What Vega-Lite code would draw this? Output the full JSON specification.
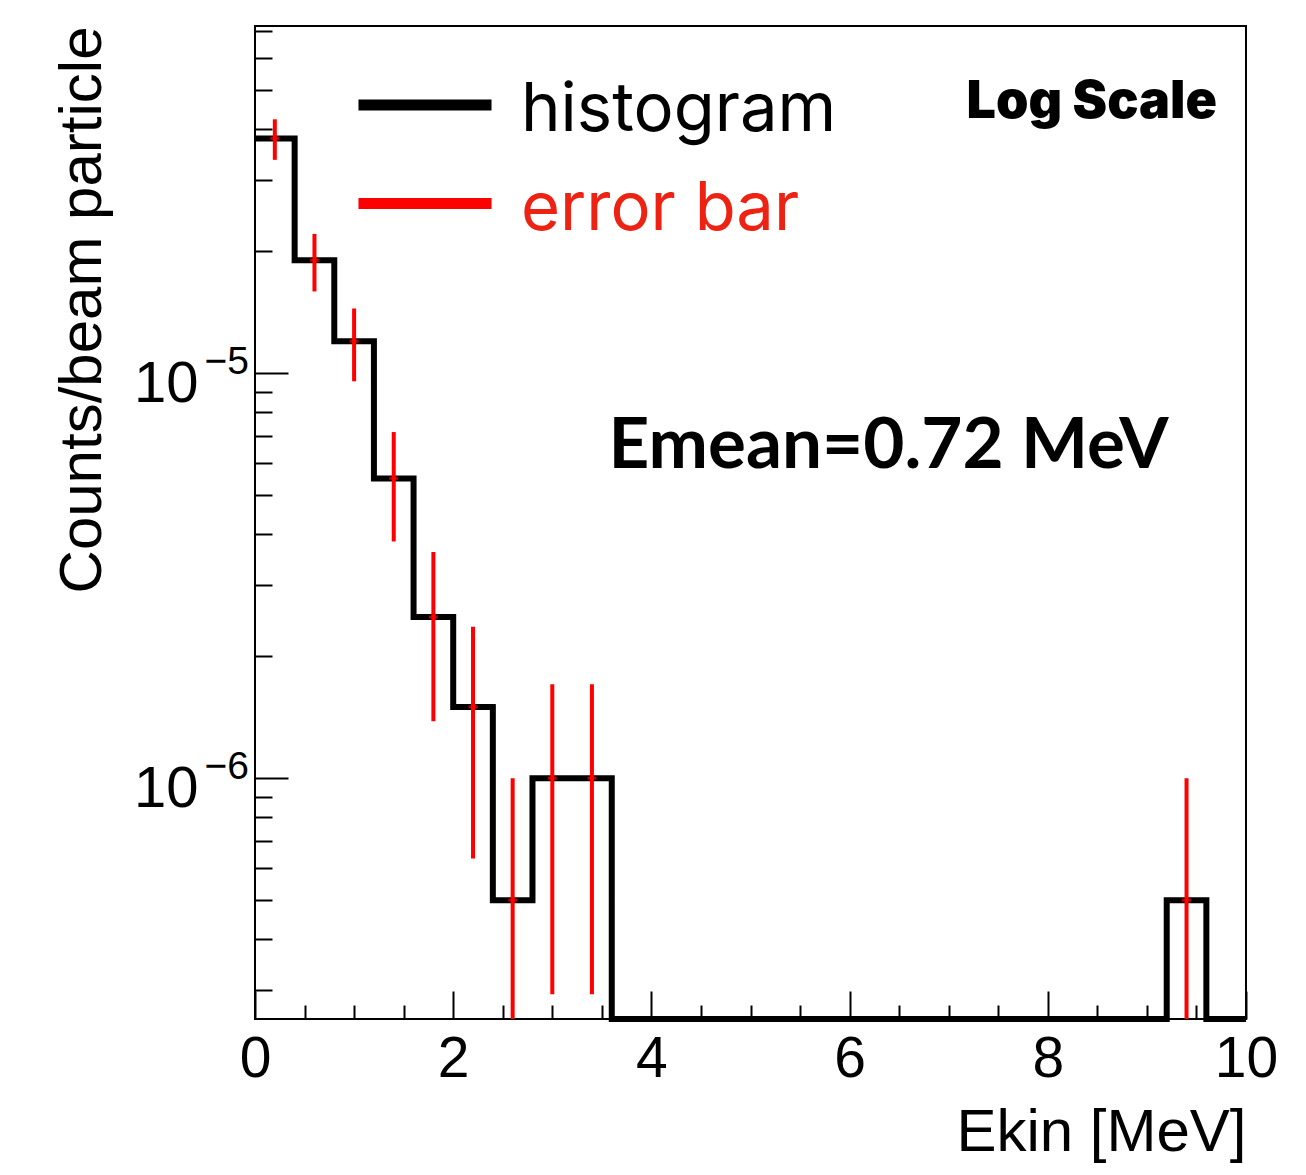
{
  "$schema": "https://vega.github.io/schema/vega-lite/v6.json",
  "width": 991,
  "height": 993,
  "autosize": {"type": "none"},
  "padding": {"left": 255, "top": 26, "right": 60, "bottom": 156},
  "background": "white",
  "config": {
    "view": {"stroke": "black", "strokeWidth": 2},
    "axis": {"domain": false, "grid": false, "tickColor": "black", "tickWidth": 2, "labelColor": "black", "titleColor": "black", "labelFont": "Liberation Sans", "titleFont": "Liberation Sans", "titleFontWeight": "normal", "labelFlush": false, "labelOverlap": false, "labelBound": false, "labelLimit": 0},
    "legend": {"orient": "none", "legendX": 136.5, "legendY": 45.5, "title": null, "symbolType": "M-10,0H10", "symbolSize": 177, "symbolStrokeWidth": 11, "labelFont": "Inter", "labelFontSize": 67, "labelOffset": 62.5, "rowPadding": 25.5, "padding": 0, "labelLimit": 0}
  },
  "datasets": {
    "hist": [
      {"e": 0.0, "v": 3.8e-5},
      {"e": 0.4, "v": 1.9e-5},
      {"e": 0.8, "v": 1.2e-5},
      {"e": 1.2, "v": 5.5e-6},
      {"e": 1.6, "v": 2.5e-6},
      {"e": 2.0, "v": 1.5e-6},
      {"e": 2.4, "v": 5e-7},
      {"e": 2.8, "v": 1e-6},
      {"e": 3.2, "v": 1e-6},
      {"e": 3.6, "v": 0},
      {"e": 4.0, "v": 0},
      {"e": 4.4, "v": 0},
      {"e": 4.8, "v": 0},
      {"e": 5.2, "v": 0},
      {"e": 5.6, "v": 0},
      {"e": 6.0, "v": 0},
      {"e": 6.4, "v": 0},
      {"e": 6.8, "v": 0},
      {"e": 7.2, "v": 0},
      {"e": 7.6, "v": 0},
      {"e": 8.0, "v": 0},
      {"e": 8.4, "v": 0},
      {"e": 8.8, "v": 0},
      {"e": 9.2, "v": 5e-7},
      {"e": 9.6, "v": 0},
      {"e": 10.0, "v": 0}
    ],
    "err": [
      {"c": 0.2, "v": 3.8e-5, "lo": 3.364e-5, "hi": 4.236e-5},
      {"c": 0.6, "v": 1.9e-5, "lo": 1.592e-5, "hi": 2.208e-5},
      {"c": 1.0, "v": 1.2e-5, "lo": 9.55e-6, "hi": 1.445e-5},
      {"c": 1.4, "v": 5.5e-6, "lo": 3.842e-6, "hi": 7.158e-6},
      {"c": 1.8, "v": 2.5e-6, "lo": 1.382e-6, "hi": 3.618e-6},
      {"c": 2.2, "v": 1.5e-6, "lo": 6.34e-7, "hi": 2.366e-6},
      {"c": 2.6, "v": 5e-7, "lo": 0, "hi": 1e-6},
      {"c": 3.0, "v": 1e-6, "lo": 2.93e-7, "hi": 1.707e-6},
      {"c": 3.4, "v": 1e-6, "lo": 2.93e-7, "hi": 1.707e-6},
      {"c": 9.4, "v": 5e-7, "lo": 0, "hi": 1e-6}
    ]
  },
  "resolve": {"axis": {"x": "independent", "y": "independent"}},
  "layer": [
    {
      "data": {"name": "hist"},
      "mark": {"type": "line", "interpolate": "step-after", "strokeWidth": 6, "strokeJoin": "miter", "strokeCap": "butt", "invalid": null},
      "encoding": {
        "x": {"field": "e", "type": "quantitative",
          "scale": {"type": "linear", "domain": [0, 10], "nice": false, "zero": false},
          "axis": {"orient": "bottom", "values": [0, 2, 4, 6, 8, 10], "tickSize": -28, "labelFontSize": 57, "labelPadding": 40, "title": "Ekin [MeV]", "titleFontSize": 60, "titleX": 991, "titleY": 131, "titleAlign": "right", "titleAnchor": "end", "titleBaseline": "alphabetic"}},
        "y": {"field": "v", "type": "quantitative",
          "scale": {"type": "log", "domain": [2.544e-7, 7.2e-5], "nice": false, "clamp": true},
          "axis": {"orient": "left", "values": [1e-6, 1e-5], "tickSize": -33, "labelExpr": "'10'", "labelFontSize": 58, "labelPadding": 90, "labelAlign": "right", "labelBaseline": "alphabetic", "labelOffset": 28, "title": "Counts/beam particle", "titleFontSize": 60, "titleAngle": 270, "titleX": -155, "titleY": 0, "titleAlign": "right", "titleAnchor": "end", "titleBaseline": "alphabetic"}},
        "color": {"datum": "histogram", "type": "nominal",
          "scale": {"domain": ["histogram", "error bar"], "range": ["#000000", "#ff0000"]},
          "legend": {"encode": {
            "symbols": {"update": {"strokeWidth": {"value": 11}, "stroke": {"signal": "datum.value === 'error bar' ? '#ee2213' : '#000000'"}}},
            "labels": {"update": {"dy": {"value": 6}, "fill": {"signal": "datum.value === 'error bar' ? '#ee2213' : '#000000'"}}}
          }}}
      }
    },
    {
      "data": {"name": "err"},
      "mark": {"type": "rule", "strokeWidth": 4, "invalid": null},
      "encoding": {
        "x": {"field": "c", "type": "quantitative",
          "scale": {"type": "linear", "domain": [0, 10], "nice": false, "zero": false},
          "axis": {"orient": "bottom", "values": [0.5, 1, 1.5, 2.5, 3, 3.5, 4.5, 5, 5.5, 6.5, 7, 7.5, 8.5, 9, 9.5], "tickSize": -14, "labels": false, "title": null}},
        "y": {"field": "lo", "type": "quantitative",
          "scale": {"type": "log", "domain": [2.544e-7, 7.2e-5], "nice": false, "clamp": true},
          "axis": {"orient": "left", "values": [3e-7, 4e-7, 5e-7, 6e-7, 7e-7, 8e-7, 9e-7, 2e-6, 3e-6, 4e-6, 5e-6, 6e-6, 7e-6, 8e-6, 9e-6, 2e-5, 3e-5, 4e-5, 5e-5, 6e-5, 7e-5], "tickSize": -17, "labels": false, "title": null}},
        "y2": {"field": "hi"},
        "color": {"datum": "error bar", "type": "nominal",
          "scale": {"domain": ["histogram", "error bar"], "range": ["#000000", "#ff0000"]}}
      }
    },
    {
      "data": {"name": "err"},
      "mark": {"type": "tick", "orient": "horizontal", "size": 9, "thickness": 3, "color": "#ff0000"},
      "encoding": {
        "x": {"field": "c", "type": "quantitative",
          "scale": {"type": "linear", "domain": [0, 10], "nice": false, "zero": false}, "axis": null},
        "y": {"field": "v", "type": "quantitative",
          "scale": {"type": "log", "domain": [2.544e-7, 7.2e-5], "nice": false, "clamp": true},
          "axis": {"orient": "left", "values": [1e-6, 1e-5], "ticks": false, "labelExpr": "datum.value > 5e-6 ? '−5' : '−6'", "labelFontSize": 39, "labelAlign": "left", "labelPadding": 51, "labelBaseline": "alphabetic", "labelOffset": 0, "title": null}}
      }
    },
    {
      "data": {"values": [{"label": "Log Scale"}]},
      "mark": {"type": "text", "align": "right", "baseline": "alphabetic", "font": "Inter", "fontSize": 52, "fontWeight": 900, "color": "#000000"},
      "encoding": {
        "x": {"datum": 9.707, "type": "quantitative", "scale": {"type": "linear", "domain": [0, 10], "nice": false, "zero": false}, "axis": null},
        "y": {"datum": 4.262e-5, "type": "quantitative", "scale": {"type": "log", "domain": [2.544e-7, 7.2e-5], "nice": false, "clamp": true}, "axis": null},
        "text": {"field": "label"}
      }
    },
    {
      "data": {"values": [{"label": "Emean=0.72 MeV"}]},
      "mark": {"type": "text", "align": "center", "baseline": "alphabetic", "font": "Lato", "fontSize": 71, "fontWeight": "bold", "color": "#000000"},
      "encoding": {
        "x": {"datum": 6.393, "type": "quantitative", "scale": {"type": "linear", "domain": [0, 10], "nice": false, "zero": false}, "axis": null},
        "y": {"datum": 5.84e-6, "type": "quantitative", "scale": {"type": "log", "domain": [2.544e-7, 7.2e-5], "nice": false, "clamp": true}, "axis": null},
        "text": {"field": "label"}
      }
    }
  ]
}
